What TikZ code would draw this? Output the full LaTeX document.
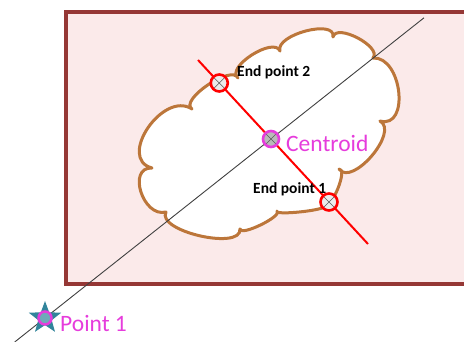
\documentclass[tikz,border=0pt]{standalone}
\usepackage{fontspec}
\setmainfont{Carlito}
\usetikzlibrary{calc,shapes.geometric}

\definecolor{boxfill}{HTML}{FBEAEA}
\definecolor{boxedge}{HTML}{953735}
\definecolor{cloudedge}{HTML}{BC763A}
\definecolor{axisgray}{HTML}{404040}
\definecolor{mark}{HTML}{E63CDC}
\definecolor{starteal}{HTML}{31849B}

\tikzset{
  % one rounded lobe of the cloud outline; #1 is the outermost point of the lobe
  lobe/.style={to path={
    .. controls ($0.413*(\tikztostart)+1.333*(#1)-0.747*(\tikztotarget)$)
            and ($0.413*(\tikztotarget)+1.333*(#1)-0.747*(\tikztostart)$)
    .. (\tikztotarget)}},
  frame/.style={draw=boxedge, fill=boxfill, line width=3.5pt},
  cloudline/.style={draw=cloudedge, fill=white, line width=3pt, line join=round},
  axisline/.style={draw=axisgray, line width=0.9pt},
  cutline/.style={draw=red, line width=2pt},
  xmark/.style={path picture={
    \draw[gray!70!black, line width=0.5pt]
      (path picture bounding box.north west) -- (path picture bounding box.south east)
      (path picture bounding box.north east) -- (path picture bounding box.south west);}},
  endring/.style={circle, draw=red, line width=2.6pt, minimum size=17pt,
    inner sep=0pt, fill=gray!15, xmark},
  centring/.style={circle, draw=mark, line width=2.6pt, minimum size=16pt,
    inner sep=0pt, fill=gray!55, xmark},
  tag/.style={anchor=base west, inner sep=0pt, font=\fontsize{15.5}{17}\selectfont\bfseries},
  bigtag/.style={anchor=base west, inner sep=0pt, text=mark, font=\fontsize{23.5}{26}\selectfont},
}

\begin{document}
\begin{tikzpicture}[x=1pt, y=-1pt]
\useasboundingbox (0,0) rectangle (464,342);

% background panel, running off the right edge
\path[frame] (66,12) rectangle (480,284);

% cloud-shaped region
\path[cloudline]
  (152,168) to[lobe={148,128}] (192,109)
            to[lobe={208,85}]  (238,78)
            to[lobe={252,55}]  (280,51)
            to[lobe={306,31}]  (333,37)
            to[lobe={358,38}]  (373,58)
            to[lobe={399,92}]  (380,121)
            to[lobe={372,156}] (339,169)
            to[lobe={338,189}] (324,206)
            to[lobe={301,212}] (277,211)
            to[lobe={261,225}] (240,229)
            to[lobe={200,236}] (166,212)
            to[lobe={141,192}] (152,168) -- cycle;

% reference points
\coordinate (lo) at (14.7,342);
\coordinate (hi) at (424,17.8);
\coordinate (ra) at (198,60);
\coordinate (rb) at (368,244);

\draw[axisline] (lo) -- (hi);
\draw[cutline] (ra) -- (rb);

% markers
\node[endring] (ep2) at (219.3,83) {};
\node[endring] (ep1) at (329,202) {};
\node[centring] (cen) at (271,139) {};

\node[star, star points=5, star point ratio=2.4, fill=starteal, minimum size=34pt,
      inner sep=0pt] (p1) at (45,318) {};
\node[circle, draw=mark, line width=2.5pt, minimum size=13pt, inner sep=0pt,
      fill=starteal!70!white] (p1ring) at (p1.center) {};

% labels
\node[tag] (ep2lbl) at (237,77) {End point 2};
\node[tag] (ep1lbl) at (253,194) {End point 1};
\node[bigtag] (cenlbl) at (286,152) {Centroid};
\node[bigtag] (p1lbl) at (60,332) {Point 1};
\end{tikzpicture}
\end{document}
